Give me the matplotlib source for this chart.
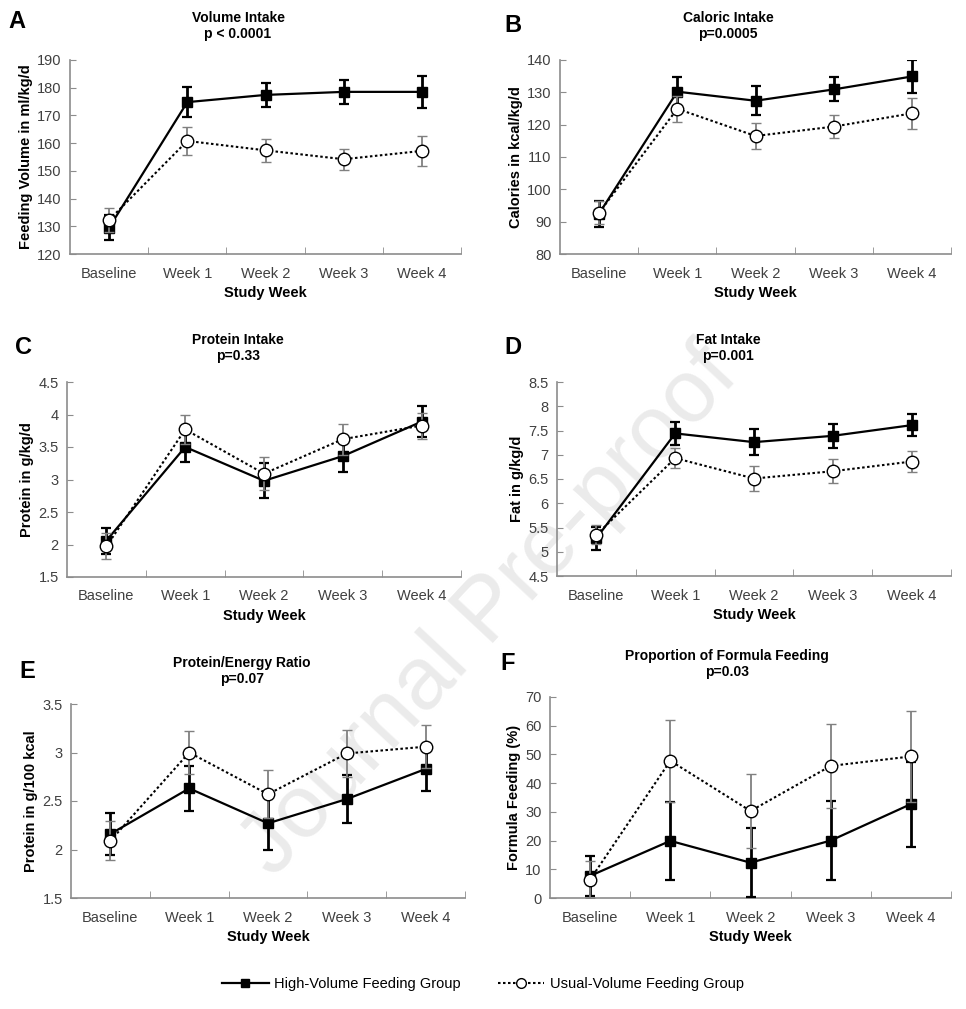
import matplotlib
matplotlib.use("Agg")
import matplotlib.pyplot as plt
from matplotlib.lines import Line2D

plt.rcParams['font.family'] = ['Liberation Sans Narrow', 'Liberation Sans', 'DejaVu Sans']

# study weeks
weeks = ["Baseline", "Week 1", "Week 2", "Week 3", "Week 4"]

# A: volume intake (ml/kg/d)
vol_high = [129.5, 174.8, 177.4, 178.5, 178.5]
vol_high_err = [4.5, 5.4, 4.4, 4.2, 5.7]
vol_usual = [132.3, 160.8, 157.4, 154.2, 157.2]
vol_usual_err = [4.4, 5.0, 4.2, 3.8, 5.5]

# B: caloric intake (kcal/kg/d)
cal_high = [92.5, 130.2, 127.4, 130.9, 134.9]
cal_high_err = [4.0, 4.4, 4.5, 3.7, 5.0]
cal_usual = [92.8, 124.9, 116.5, 119.4, 123.5]
cal_usual_err = [3.5, 4.0, 4.1, 3.5, 4.9]

# C: protein intake (g/kg/d)
prot_high = [2.06, 3.50, 2.98, 3.36, 3.89]
prot_high_err = [0.20, 0.23, 0.27, 0.25, 0.24]
prot_usual = [1.97, 3.77, 3.09, 3.62, 3.83]
prot_usual_err = [0.20, 0.22, 0.25, 0.24, 0.20]

# D: fat intake (g/kg/d)
fat_high = [5.28, 7.44, 7.26, 7.39, 7.61]
fat_high_err = [0.24, 0.23, 0.27, 0.25, 0.23]
fat_usual = [5.35, 6.93, 6.51, 6.66, 6.86]
fat_usual_err = [0.20, 0.21, 0.26, 0.25, 0.22]

# E: protein/energy ratio (g/100 kcal)
pe_high = [2.16, 2.63, 2.27, 2.52, 2.83]
pe_high_err = [0.22, 0.23, 0.27, 0.25, 0.23]
pe_usual = [2.09, 3.00, 2.57, 2.99, 3.06]
pe_usual_err = [0.20, 0.22, 0.25, 0.24, 0.22]

# F: proportion of formula feeding (%)
ff_high = [7.7, 19.9, 12.3, 20.0, 32.7]
ff_high_err = [7.1, 13.5, 12.0, 13.8, 14.8]
ff_usual = [6.4, 47.8, 30.3, 46.0, 49.3]
ff_usual_err = [6.4, 14.3, 12.8, 14.5, 15.9]

panels = [
    ("A", "Volume Intake", "p < 0.0001", "Feeding Volume in ml/kg/d",
     vol_high, vol_high_err, vol_usual, vol_usual_err, (120, 190), 10),
    ("B", "Caloric Intake", "p=0.0005", "Calories in kcal/kg/d",
     cal_high, cal_high_err, cal_usual, cal_usual_err, (80, 140), 10),
    ("C", "Protein Intake", "p=0.33", "Protein in g/kg/d",
     prot_high, prot_high_err, prot_usual, prot_usual_err, (1.5, 4.5), 0.5),
    ("D", "Fat Intake", "p=0.001", "Fat in g/kg/d",
     fat_high, fat_high_err, fat_usual, fat_usual_err, (4.5, 8.5), 0.5),
    ("E", "Protein/Energy Ratio", "p=0.07", "Protein in g/100 kcal",
     pe_high, pe_high_err, pe_usual, pe_usual_err, (1.5, 3.5), 0.5),
    ("F", "Proportion of Formula Feeding", "p=0.03", "Formula Feeding (%)",
     ff_high, ff_high_err, ff_usual, ff_usual_err, (0, 70), 10),
]

# axes boxes in pixels (left, top, right, bottom) and title/letter positions
W, H = 966, 1009
boxes = [(70, 60, 461, 254), (560, 60, 951, 254),
         (67, 382, 461, 577), (557, 382, 951, 576),
         (71, 704, 465, 898), (550, 697, 951, 898)]
title_pos = [(238, 18), (728, 18), (238, 340), (728, 340), (242, 663), (727, 656)]
letter_pos = [(17, 22), (513, 25), (23, 348), (513, 348), (27, 672), (508, 663)]

fig = plt.figure(figsize=(W / 100, H / 100), dpi=100)

# watermark, drawn behind the axes
fig.text(490 / W, 1 - 612 / H, "Journal Pre-proof", fontsize=64, color="#ebebeb",
         rotation=47, ha="center", va="center", family="Liberation Sans",
         rotation_mode="anchor", zorder=-1)

axis_grey = "#8c8c8c"
usual_grey = "#808080"

for i, (letter, title, pval, ylabel, hi, hi_err, us, us_err, ylim, step) in enumerate(panels):
    l, t, r, b = boxes[i]
    ax = fig.add_axes([l / W, 1 - b / H, (r - l) / W, (b - t) / H])
    ax.patch.set_alpha(0)
    x = list(range(len(weeks)))

    ax.errorbar(x, hi, yerr=hi_err, color="black", lw=1.6, marker="s", ms=7,
                mfc="black", mec="black", ecolor="black", elinewidth=2.0,
                capsize=3.5, capthick=1.6, zorder=3)
    ax.errorbar(x, us, yerr=us_err, color="black", lw=1.5, ls=(0, (1.2, 1.2)),
                marker="o", ms=9, mfc="white", mec="black", mew=1.0,
                ecolor=usual_grey, elinewidth=1.3, capsize=3.5, capthick=1.2, zorder=4)

    ax.set_xlim(-0.5, 4.5)
    ax.set_ylim(*ylim)
    ticks = []
    v = ylim[0]
    while v <= ylim[1] + 1e-9:
        ticks.append(round(v, 2))
        v += step
    ax.set_yticks(ticks)
    ax.set_yticklabels([("%g" % tv) for tv in ticks])
    ax.set_xticks(x)
    ax.set_xticklabels(weeks)
    ax.set_xticks([0.5, 1.5, 2.5, 3.5, 4.5], minor=True)
    ax.tick_params(axis="x", which="major", length=0, pad=9, labelsize=10.5, labelcolor="#404040")
    ax.tick_params(axis="x", which="minor", direction="in", length=5, color=axis_grey)
    ax.tick_params(axis="y", direction="in", length=4, color=axis_grey,
                   labelsize=10.5, labelcolor="#404040", pad=6)

    for side in ("top", "right"):
        ax.spines[side].set_visible(False)
    for side in ("left", "bottom"):
        ax.spines[side].set_color(axis_grey)
        ax.spines[side].set_linewidth(1.2)

    ax.set_xlabel("Study Week", fontsize=10.5, fontweight="bold", labelpad=4)
    ax.set_ylabel(ylabel, fontsize=10.5, fontweight="bold", labelpad=3)

    tx, ty = title_pos[i]
    fig.text(tx / W, 1 - ty / H, title, ha="center", va="center", fontsize=10, fontweight="bold")
    fig.text(tx / W, 1 - (ty + 16) / H, pval, ha="center", va="center", fontsize=10, fontweight="bold")
    lx, ly = letter_pos[i]
    fig.text(lx / W, 1 - ly / H, letter, ha="center", va="center", fontsize=17,
             fontweight="bold", family="Liberation Sans")

handles = [
    Line2D([], [], color="black", lw=1.6, marker="s", ms=6, mfc="black"),
    Line2D([], [], color="black", lw=1.5, ls=(0, (1.2, 1.2)), marker="o", ms=7, mfc="white", mec="black"),
]
fig.legend(handles, ["High-Volume Feeding Group", "Usual-Volume Feeding Group"],
           loc="center", bbox_to_anchor=(0.5, 1 - 984 / H), ncol=2, frameon=False,
           fontsize=10.5, handlelength=3.2, columnspacing=2.5, handletextpad=0.4)

fig.savefig("out.png", dpi=100, facecolor="white")
